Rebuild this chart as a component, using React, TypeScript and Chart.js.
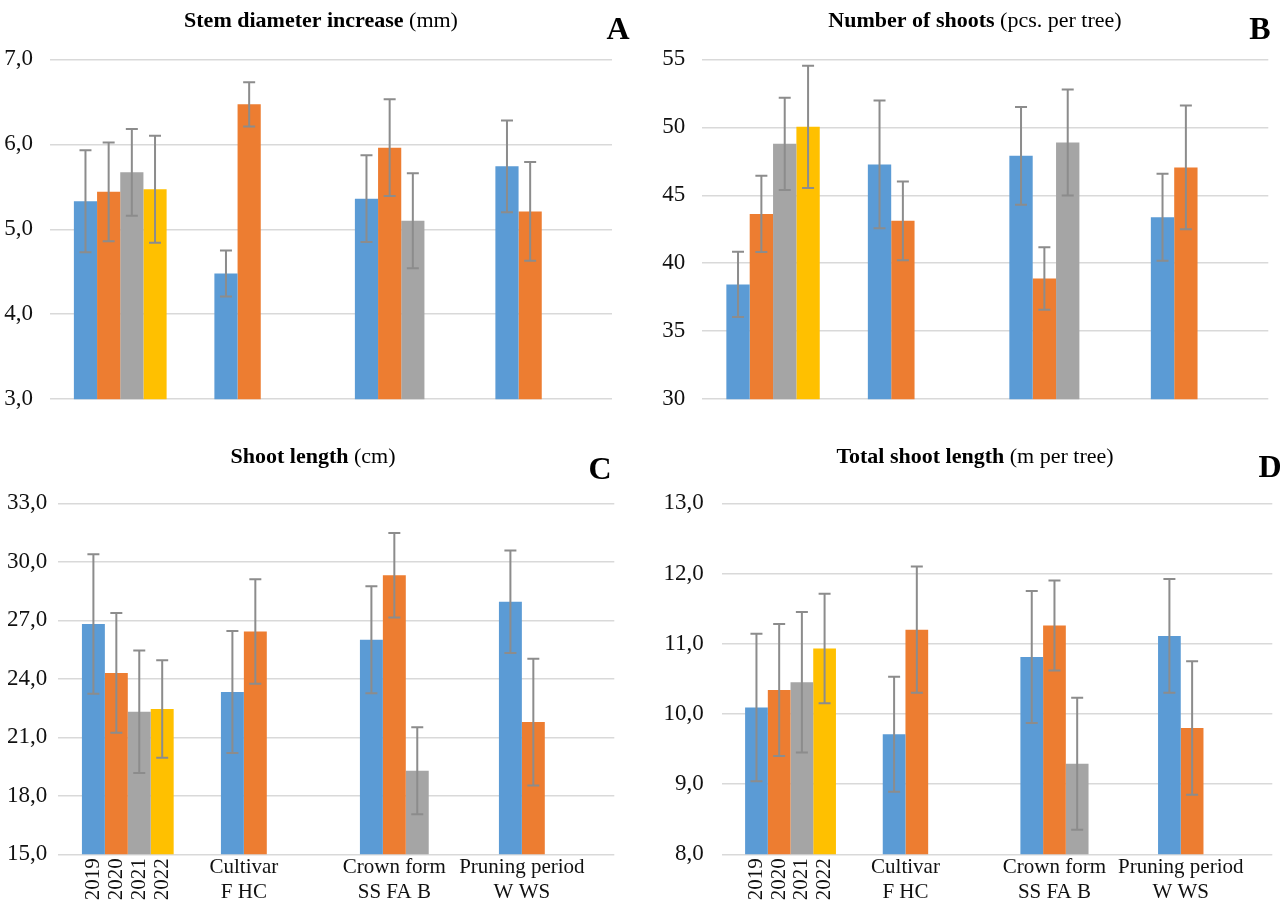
import React, { useEffect, useRef } from "react";
import { Chart, registerables } from "chart.js";

Chart.register(...registerables);

// ---------- Data ----------
const categories = ["Year", "Cultivar", "Crown form", "Pruning period"];
const categorySubLabels = ["", "F HC", "SS FA B", "W WS"];
const yearLabels = ["2019", "2020", "2021", "2022"];
const seriesColors = ["#5B9BD5", "#ED7D31", "#A5A5A5", "#FFC000"];

// A: Stem diameter increase (mm)
const stemBlue = [5.33, 4.48, 5.36, 5.74];
const stemOrange = [5.44, 6.47, 5.96, 5.21];
const stemGray = [5.67, null, 5.1, null];
const stemYellow = [5.47, null, null, null];
const stemBlueErr = [0.6, 0.27, 0.51, 0.54];
const stemOrangeErr = [0.58, 0.26, 0.57, 0.58];
const stemGrayErr = [0.51, null, 0.56, null];
const stemYellowErr = [0.63, null, null, null];

// B: Number of shoots (pcs. per tree)
const shootsBlue = [38.44, 47.27, 47.9, 43.39];
const shootsOrange = [43.63, 43.12, 38.88, 47.05];
const shootsGray = [48.78, null, 48.88, null];
const shootsYellow = [50.03, null, null, null];
const shootsBlueErr = [2.4, 4.7, 3.6, 3.2];
const shootsOrangeErr = [2.8, 2.9, 2.3, 4.55];
const shootsGrayErr = [3.4, null, 3.9, null];
const shootsYellowErr = [4.5, null, null, null];

// C: Shoot length (cm)
const lengthBlue = [26.81, 23.32, 26.0, 27.95];
const lengthOrange = [24.3, 26.42, 29.31, 21.78];
const lengthGray = [22.31, null, 19.29, null];
const lengthYellow = [22.45, null, null, null];
const lengthBlueErr = [3.58, 3.13, 2.74, 2.63];
const lengthOrangeErr = [3.07, 2.68, 2.17, 3.25];
const lengthGrayErr = [3.14, null, 2.23, null];
const lengthYellowErr = [2.5, null, null, null];

// D: Total shoot length (m per tree)
const totalBlue = [10.09, 9.71, 10.81, 11.11];
const totalOrange = [10.34, 11.2, 11.26, 9.8];
const totalGray = [10.45, null, 9.29, null];
const totalYellow = [10.93, null, null, null];
const totalBlueErr = [1.05, 0.82, 0.94, 0.81];
const totalOrangeErr = [0.94, 0.9, 0.64, 0.95];
const totalGrayErr = [1.0, null, 0.94, null];
const totalYellowErr = [0.78, null, null, null];

// ---------- Panels ----------
type PanelDef = {
  left: number; top: number; width: number; height: number;
  plotLeft: number; plotRight: number; plotTop: number; plotBottom: number;
  min: number; max: number; step: number; decimals: number; tickPad: number;
  titleBold: string; titleNormal: string; titleX: number; titleY: number;
  letter: string; letterX: number; letterY: number;
  showX: boolean;
  series: (number | null)[][];
  errors: (number | null)[][];
};

const panels: PanelDef[] = [
  {
    left: 0, top: 0, width: 640, height: 430,
    plotLeft: 50, plotRight: 612, plotTop: 59.3, plotBottom: 401,
    min: 3, max: 7, step: 1, decimals: 1, tickPad: 17,
    titleBold: "Stem diameter increase", titleNormal: " (mm)", titleX: 321, titleY: 27,
    letter: "A", letterX: 618, letterY: 39, showX: false,
    series: [stemBlue, stemOrange, stemGray, stemYellow],
    errors: [stemBlueErr, stemOrangeErr, stemGrayErr, stemYellowErr],
  },
  {
    left: 640, top: 0, width: 640, height: 430,
    plotLeft: 702.3, plotRight: 1268.3, plotTop: 59.3, plotBottom: 401,
    min: 30, max: 55, step: 5, decimals: 0, tickPad: 17,
    titleBold: "Number of shoots", titleNormal: " (pcs. per tree)", titleX: 335, titleY: 27,
    letter: "B", letterX: 620, letterY: 39, showX: false,
    series: [shootsBlue, shootsOrange, shootsGray, shootsYellow],
    errors: [shootsBlueErr, shootsOrangeErr, shootsGrayErr, shootsYellowErr],
  },
  {
    left: 0, top: 430, width: 640, height: 471,
    plotLeft: 58.3, plotRight: 614.3, plotTop: 503.3, plotBottom: 854.3,
    min: 15, max: 33, step: 3, decimals: 1, tickPad: 11,
    titleBold: "Shoot length", titleNormal: " (cm)", titleX: 313, titleY: 33,
    letter: "C", letterX: 600, letterY: 49, showX: true,
    series: [lengthBlue, lengthOrange, lengthGray, lengthYellow],
    errors: [lengthBlueErr, lengthOrangeErr, lengthGrayErr, lengthYellowErr],
  },
  {
    left: 640, top: 430, width: 640, height: 471,
    plotLeft: 721.7, plotRight: 1272.3, plotTop: 503.3, plotBottom: 854.3,
    min: 8, max: 13, step: 1, decimals: 1, tickPad: 18,
    titleBold: "Total shoot length", titleNormal: " (m per tree)", titleX: 335, titleY: 33,
    letter: "D", letterX: 630, letterY: 47, showX: true,
    series: [totalBlue, totalOrange, totalGray, totalYellow],
    errors: [totalBlueErr, totalOrangeErr, totalGrayErr, totalYellowErr],
  },
];

const FONT = "'Liberation Serif', 'Times New Roman', serif";

const errorBarPlugin = {
  id: "errorBars",
  afterDatasetsDraw(chart: any, _args: any, opts: any) {
    const errs: (number | null)[][] = opts.errors;
    const yScale = chart.scales.y;
    const ctx = chart.ctx;
    ctx.save();
    ctx.strokeStyle = "#8C8C8C";
    ctx.lineWidth = 2;
    chart.data.datasets.forEach((ds: any, i: number) => {
      const meta = chart.getDatasetMeta(i);
      ds.data.forEach((v: number | null, j: number) => {
        const e = errs[i][j];
        if (v == null || e == null) return;
        const x = meta.data[j].x;
        const yT = yScale.getPixelForValue(v + e);
        const yB = yScale.getPixelForValue(v - e);
        ctx.beginPath();
        ctx.moveTo(x, yT);
        ctx.lineTo(x, yB);
        ctx.moveTo(x - 6, yT);
        ctx.lineTo(x + 6, yT);
        ctx.moveTo(x - 6, yB);
        ctx.lineTo(x + 6, yB);
        ctx.stroke();
      });
    });
    ctx.restore();
  },
};

const textPlugin = {
  id: "panelText",
  afterDraw(chart: any, _args: any, opts: any) {
    const p: PanelDef = opts.panel;
    const ctx = chart.ctx;
    ctx.save();
    ctx.fillStyle = "#000";
    ctx.textBaseline = "alphabetic";
    // title (bold + normal)
    ctx.font = `bold 22px ${FONT}`;
    const wb = ctx.measureText(p.titleBold).width;
    ctx.font = `22px ${FONT}`;
    const wn = ctx.measureText(p.titleNormal).width;
    const x0 = p.titleX - (wb + wn) / 2;
    ctx.textAlign = "left";
    ctx.font = `bold 22px ${FONT}`;
    ctx.fillText(p.titleBold, x0, p.titleY);
    ctx.font = `22px ${FONT}`;
    ctx.fillText(p.titleNormal, x0 + wb, p.titleY);
    // letter
    ctx.font = `bold 32px ${FONT}`;
    ctx.textAlign = "center";
    ctx.fillText(p.letter, p.letterX, p.letterY);

    if (p.showX) {
      const bottom = chart.chartArea.bottom;
      ctx.font = `21px ${FONT}`;
      ctx.fillStyle = "#111";
      categories.forEach((cat, j) => {
        const xs: number[] = [];
        chart.data.datasets.forEach((ds: any, i: number) => {
          if (ds.data[j] != null) xs.push(chart.getDatasetMeta(i).data[j].x);
        });
        if (j === 0) {
          xs.forEach((x, i) => {
            ctx.save();
            ctx.translate(x, bottom + 4);
            ctx.rotate(-Math.PI / 2);
            ctx.textAlign = "right";
            ctx.textBaseline = "middle";
            ctx.fillText(yearLabels[i], 0, 0);
            ctx.restore();
          });
        } else {
          const cx = xs.reduce((a, b) => a + b, 0) / xs.length;
          ctx.textAlign = "center";
          ctx.textBaseline = "middle";
          ctx.fillText(cat, cx, bottom + 13);
          ctx.fillText(categorySubLabels[j], cx, bottom + 38);
        }
      });
    }
    ctx.restore();
  },
};

function Panel({ p }: { p: PanelDef }) {
  const ref = useRef<HTMLCanvasElement>(null);
  useEffect(() => {
    if (!ref.current) return;
    const chart = new Chart(ref.current, {
      type: "bar",
      data: {
        labels: categories,
        datasets: p.series.map((s, i) => ({
          label: yearLabels[i],
          data: s as any,
          backgroundColor: seriesColors[i],
          borderWidth: 0,
          barPercentage: 1,
          categoryPercentage: 0.66,
        })),
      },
      options: {
        responsive: false,
        animation: false,
        devicePixelRatio: 1,
        layout: {
          padding: {
            left: 0,
            top: p.plotTop - p.top,
            right: p.left + p.width - p.plotRight,
            bottom: p.top + p.height - p.plotBottom,
          },
        },
        plugins: {
          legend: { display: false },
          tooltip: { enabled: false },
          title: { display: false },
          errorBars: { errors: p.errors },
          panelText: { panel: p },
        } as any,
        scales: {
          x: { display: false },
          y: {
            min: p.min,
            max: p.max,
            afterFit: (s: any) => { s.width = p.plotLeft - p.left; },
            border: { display: false },
            grid: { color: "#D9D9D9", lineWidth: 1.5, drawTicks: false },
            ticks: {
              stepSize: p.step,
              padding: p.tickPad,
              color: "#111",
              font: { family: FONT, size: 23 },
              callback: (v: any) => Number(v).toFixed(p.decimals).replace(".", ","),
            },
          },
        },
      },
      plugins: [errorBarPlugin, textPlugin],
    });
    return () => chart.destroy();
  }, [p]);
  return (
    <canvas
      ref={ref}
      width={p.width}
      height={p.height}
      style={{ position: "absolute", left: p.left, top: p.top, width: p.width, height: p.height }}
    />
  );
}

export default function App() {
  return (
    <div style={{ position: "absolute", left: 0, top: 0, width: 1280, height: 901, background: "#fff", overflow: "hidden" }}>
      {panels.map((p, i) => (
        <Panel key={i} p={p} />
      ))}
    </div>
  );
}
